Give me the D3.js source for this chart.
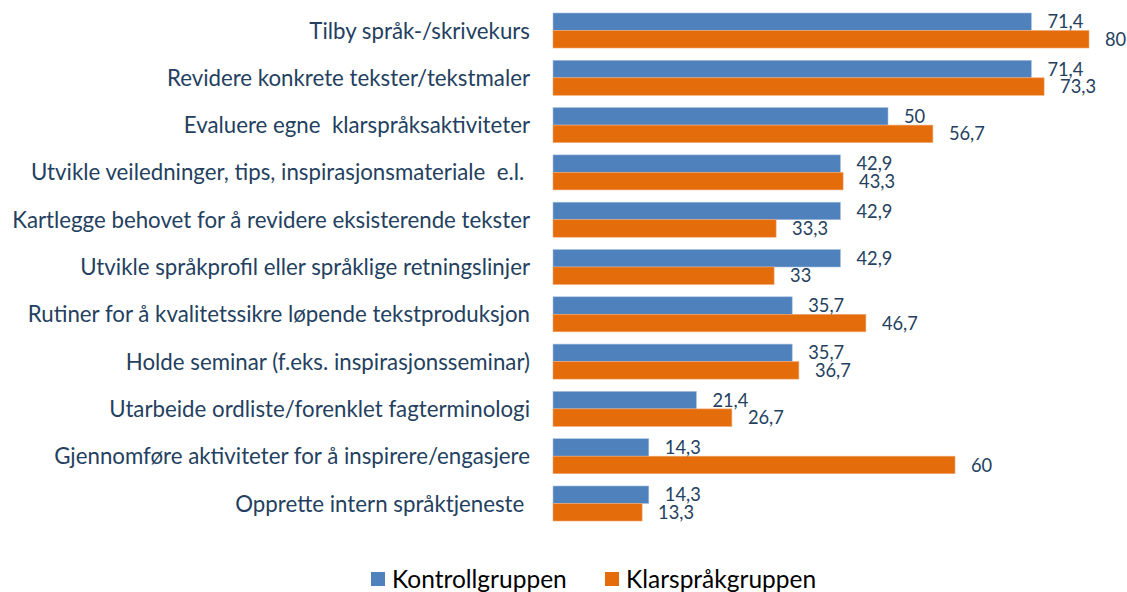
<!DOCTYPE html>
<html><head><meta charset="utf-8">
<script src="https://cdn.jsdelivr.net/npm/d3@7"></script>
<style>body{margin:0;background:#fff}svg{display:block}</style>
</head><body>
<script>
const categories = [
  "Tilby språk-/skrivekurs",
  "Revidere konkrete tekster/tekstmaler",
  "Evaluere egne  klarspråksaktiviteter",
  "Utvikle veiledninger, tips, inspirasjonsmateriale  e.l. ",
  "Kartlegge behovet for å revidere eksisterende tekster",
  "Utvikle språkprofil eller språklige retningslinjer",
  "Rutiner for å kvalitetssikre løpende tekstproduksjon",
  "Holde seminar (f.eks. inspirasjonsseminar)",
  "Utarbeide ordliste/forenklet fagterminologi",
  "Gjennomføre aktiviteter for å inspirere/engasjere",
  "Opprette intern språktjeneste "
];
const kontroll = [71.4, 71.4, 50, 42.9, 42.9, 42.9, 35.7, 35.7, 21.4, 14.3, 14.3];
const klarsprak = [80, 73.3, 56.7, 43.3, 33.3, 33, 46.7, 36.7, 26.7, 60, 13.3];
const seriesNames = ["Kontrollgruppen", "Klarspråkgruppen"];
const colors = ["#4F81BD", "#E46C0A"];

const W = 1127, H = 592;
const font = "Lato, 'Open Sans', sans-serif";
const textColor = "#243F60";

const svg = d3.select("body").append("svg").attr("width", W).attr("height", H);

const x = d3.scaleLinear().domain([0, 80]).range([553, 1089]);
const y = d3.scaleBand().domain(categories).range([6.85, 527.15]).paddingInner(0.26).paddingOuter(0.13);
const sub = d3.scaleBand().domain([0, 1]).range([0, y.bandwidth()]);

function fitSize(sel, target) {
  const w = sel.node().getComputedTextLength();
  const fs = parseFloat(sel.attr("font-size"));
  return fs * target / w;
}

// category labels
const cl = svg.append("g").selectAll("text").data(categories).join("text")
  .attr("x", 530)
  .attr("y", d => y(d) + y.bandwidth() / 2)
  .attr("dy", "0.36em")
  .attr("text-anchor", "end")
  .attr("font-family", font)
  .attr("font-size", 18)
  .attr("fill", textColor)
  .style("white-space", "pre")
  .text(d => d);
const fs = fitSize(cl.filter((d, i) => i === 4), 518);
cl.attr("font-size", fs);

const rows = categories.map((c, i) => ({c, vals: [kontroll[i], klarsprak[i]]}));
const g = svg.append("g").selectAll("g").data(rows).join("g")
  .attr("transform", d => `translate(0,${y(d.c)})`);

g.selectAll("rect").data(d => d.vals.map((v, k) => ({v, k}))).join("rect")
  .attr("x", x(0))
  .attr("y", d => sub(d.k))
  .attr("width", d => x(d.v) - x(0))
  .attr("height", sub.bandwidth())
  .attr("fill", d => colors[d.k])
  .attr("stroke", d => d.k === 0 ? "#A7C0DE" : "#F2A874")
  .attr("stroke-width", 0.6);

const fmt = v => String(v).replace(".", ",");
const vl = g.selectAll("text").data(d => d.vals.map((v, k) => ({v, k}))).join("text")
  .attr("x", d => x(d.v) + 16)
  .attr("y", d => sub(d.k) + sub.bandwidth() / 2)
  .attr("dy", "0.36em")
  .attr("font-family", font)
  .attr("font-size", 18)
  .attr("fill", textColor)
  .text(d => fmt(d.v));
const vfs = fitSize(vl.filter(d => d.k === 0 && d.v === 71.4).filter((d, i) => i === 0), 36);
vl.attr("font-size", vfs);

// legend
const leg = svg.append("g");
const legX = [371, 605];
seriesNames.forEach((n, i) => {
  leg.append("rect").attr("x", legX[i]).attr("y", 572).attr("width", 14).attr("height", 14).attr("fill", colors[i]);
  leg.append("text").attr("x", legX[i] + 21).attr("y", 579).attr("dy", "0.36em")
    .attr("font-family", font).attr("font-size", fs * 1.1).attr("fill", "#000").text(n);
});
</script>
</body></html>
